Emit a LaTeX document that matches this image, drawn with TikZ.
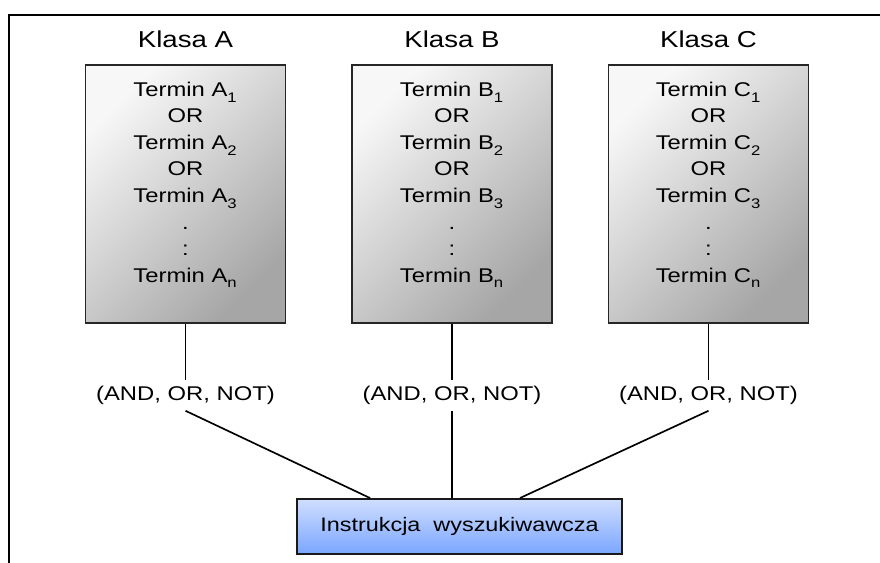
\documentclass[tikz,border=0pt]{standalone}
\usepackage{fontspec}
\setmainfont[FakeStretch=1.2]{Liberation Sans}
\usetikzlibrary{positioning}
\definecolor{instrtop}{RGB}{208,222,255}
\definecolor{instrbottom}{RGB}{122,166,255}
\newcommand\termsub[1]{\raisebox{-0.15em}{\textsubscript{#1}}}
\begin{document}
\begin{tikzpicture}[
    classbox/.style={draw=black!85, line width=1pt, minimum width=4cm, minimum height=5.16cm,
        top color=gray!6, bottom color=gray!70, shading angle=45},
    termlist/.style={align=center, inner sep=0pt, font=\fontsize{11.3pt}{15.1pt}\selectfont},
    classname/.style={font=\fontsize{13.1pt}{15pt}\selectfont},
    opslabel/.style={font=\fontsize{11.3pt}{13pt}\selectfont},
    link/.style={line width=0.95pt}]
    \useasboundingbox (0, 0) rectangle (17.6, 11.26);
    % frame
    \draw [line width=1.1pt] (0.18, 0) -- (0.18, 10.96) -- (17.6, 10.96);
    \foreach \c/\x in {A/3.71, B/9.04, C/14.17} {
        \node [classbox] (box\c) at (\x, 7.38) {};
        \node [classname, above=2mm of box\c] (klasa\c) {Klasa \c};
        \node [termlist, below=0.35cm of box\c.north] (terms\c) {Termin \c\termsub{1}\\OR\\Termin \c\termsub{2}\\OR\\Termin \c\termsub{3}\\.\\:\\Termin \c\termsub{n}};
        \node [opslabel, below=1.12cm of box\c] (ops\c) {(AND, OR, NOT)};
        \draw [link] (box\c) -- (ops\c);
        }
    \node [draw=black!90, line width=1.1pt, minimum width=6.5cm, minimum height=1.1cm,
        top color=instrtop, bottom color=instrbottom, font=\fontsize{11.1pt}{13pt}\selectfont]
        (instr) at (9.19, 0.73) {Instrukcja\ \ wyszukiwawcza};
    \draw [link] (opsA.south) -- ([xshift=-1.79cm]instr.north);
    \draw [link] (opsB.south) -- (opsB.south |- instr.north);
    \draw [link] (opsC.south) -- ([xshift=1.21cm]instr.north);
\end{tikzpicture}
\end{document}
